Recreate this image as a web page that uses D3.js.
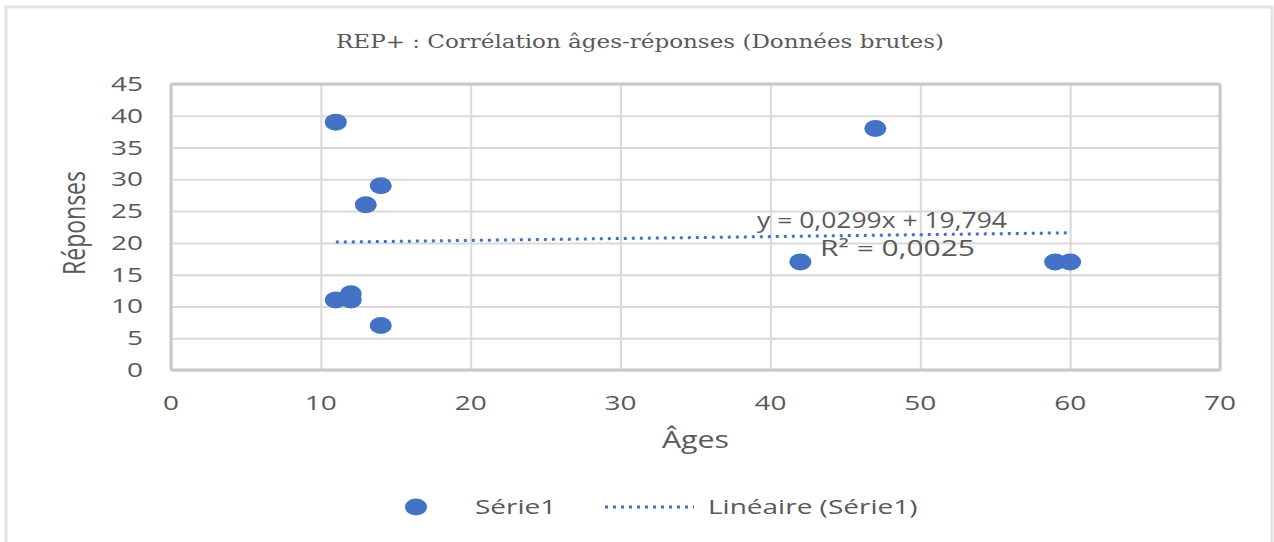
<!DOCTYPE html>
<html>
<head>
<meta charset="utf-8">
<script src="https://d3js.org/d3.v7.min.js"></script>
<style>
  body { margin: 0; background: #fff; }
  text { font-family: "Open Sans", sans-serif; fill: #595959; }
  .grid line { stroke: #d9d9d9; stroke-width: 2; }
  .grid .domain { stroke: none; }
</style>
</head>
<body>
<script>
// data
const ages      = [11, 14, 13, 11, 12, 12, 14, 47, 42, 59, 60];
const reponses  = [39, 29, 26, 11, 12, 11, 7, 38, 17, 17, 17];
const xTicks    = [0, 10, 20, 30, 40, 50, 60, 70];
const yTicks    = [0, 5, 10, 15, 20, 25, 30, 35, 40, 45];
const slope = 0.0299, intercept = 19.794;
const trendLabel = "y = 0,0299x + 19,794";
const r2Label = "R² = 0,0025";

const W = 1274, H = 542;
const margin = {top: 84, right: 54, bottom: 172, left: 171};
const width = W - margin.left - margin.right,
      height = H - margin.top - margin.bottom;

// the original picture is stretched sideways, so widen the text about its anchor
const SX = 1.4;
function stretch(sel, sx) {
  sel.each(function() {
    const t = d3.select(this);
    const x0 = +t.attr("x") || 0;
    t.attr("transform", `translate(${x0 * (1 - sx)},0) scale(${sx},1)`);
  });
}

const svg = d3.select("body").append("svg")
    .attr("width", W).attr("height", H);

// outer chart frame
svg.append("path")
    .attr("d", `M6,${H} V7 H${W - 2} V${H}`)
    .attr("fill", "none")
    .attr("stroke", "#e3e3e3")
    .attr("stroke-width", 3);

svg.append("text")
    .attr("x", 640).attr("y", 48)
    .attr("text-anchor", "middle")
    .attr("textLength", 608)
    .attr("lengthAdjust", "spacingAndGlyphs")
    .style("font-family", "'DejaVu Serif', serif")
    .style("font-size", "18px")
    .text("REP+ : Corrélation âges-réponses (Données brutes)");

const g = svg.append("g")
    .attr("transform", `translate(${margin.left},${margin.top})`);

const x = d3.scaleLinear().domain([0, 70]).range([0, width]);
const y = d3.scaleLinear().domain([0, 45]).range([height, 0]);

// gridlines
g.append("g").attr("class", "grid")
    .call(d3.axisLeft(y).tickValues(yTicks).tickSize(-width).tickFormat(""));
g.append("g").attr("class", "grid")
    .call(d3.axisBottom(x).tickValues(xTicks).tickSize(height).tickFormat(""));

// plot frame
g.append("rect")
    .attr("width", width).attr("height", height)
    .attr("fill", "none")
    .attr("stroke", "#c9c9c9")
    .attr("stroke-width", 3)
    .attr("rx", 2);

// tick labels
g.selectAll(".ylab").data(yTicks).enter().append("text")
    .attr("x", -28).attr("y", d => y(d) + 7)
    .attr("text-anchor", "end")
    .style("font-size", "20px")
    .text(d => d)
    .call(stretch, SX);

g.selectAll(".xlab").data(xTicks).enter().append("text")
    .attr("x", d => x(d)).attr("y", height + 40)
    .attr("text-anchor", "middle")
    .style("font-size", "20px")
    .text(d => d)
    .call(stretch, SX);

// axis titles
g.append("text")
    .attr("x", width / 2).attr("y", height + 78)
    .attr("text-anchor", "middle")
    .style("font-size", "23px")
    .text("Âges")
    .call(stretch, 1.32);

g.append("text")
    .attr("transform", `translate(${-86},${height / 2 - 4}) rotate(-90) scale(1,1.35)`)
    .attr("text-anchor", "middle")
    .style("font-size", "23px")
    .text("Réponses");

// points
g.selectAll(".pt").data(ages).enter().append("ellipse")
    .attr("cx", d => x(d))
    .attr("cy", (d, i) => y(reponses[i]))
    .attr("rx", 11).attr("ry", 8.5)
    .attr("fill", "#4472c4");

// trend line
const tx = [d3.min(ages), d3.max(ages)];
g.append("line")
    .attr("x1", x(tx[0])).attr("y1", y(slope * tx[0] + intercept))
    .attr("x2", x(tx[1])).attr("y2", y(slope * tx[1] + intercept))
    .attr("stroke", "#4472c4")
    .attr("stroke-width", 3)
    .attr("stroke-dasharray", "3,5");

g.append("text")
    .attr("x", 586).attr("y", 144)
    .attr("textLength", 250)
    .attr("lengthAdjust", "spacingAndGlyphs")
    .style("font-size", "21px")
    .text(trendLabel);
g.append("text")
    .attr("x", 649).attr("y", 172)
    .attr("textLength", 155)
    .attr("lengthAdjust", "spacingAndGlyphs")
    .style("font-size", "21px")
    .text(r2Label);

// legend
const lg = svg.append("g").attr("transform", "translate(0,507)");
lg.append("ellipse").attr("cx", 416).attr("cy", 0)
    .attr("rx", 11).attr("ry", 8.5).attr("fill", "#4472c4");
lg.append("text").attr("x", 475).attr("y", 7)
    .style("font-size", "20px").text("Série1")
    .call(stretch, SX);
lg.append("line").attr("x1", 605).attr("x2", 694)
    .attr("stroke", "#4472c4").attr("stroke-width", 3)
    .attr("stroke-dasharray", "3,5");
lg.append("text").attr("x", 708).attr("y", 7)
    .style("font-size", "20px").text("Linéaire (Série1)")
    .call(stretch, SX);
</script>
</body>
</html>
